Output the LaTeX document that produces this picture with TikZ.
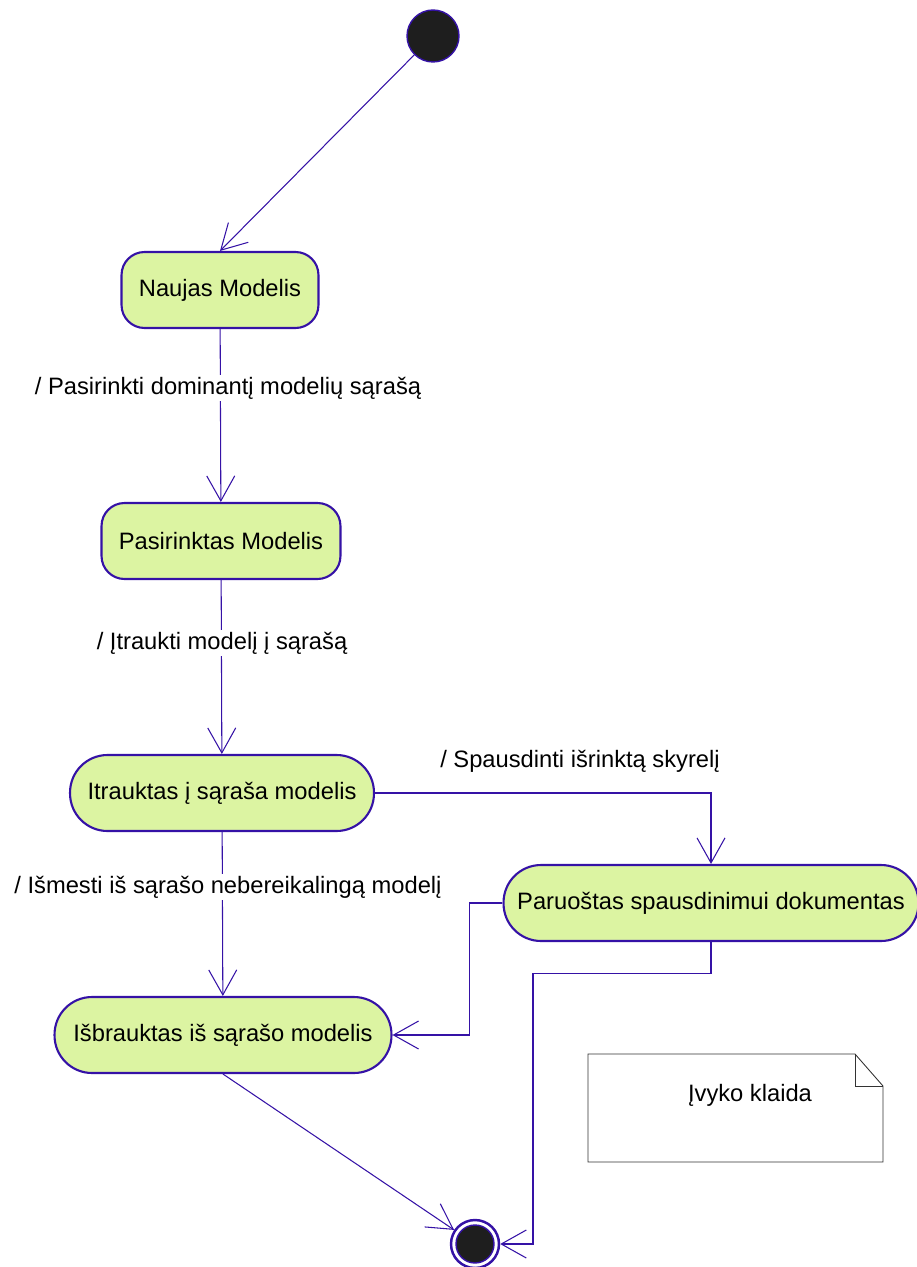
\documentclass[tikz,border=0pt]{standalone}
\usepackage{fontspec}
\setmainfont{Liberation Sans}
\usepackage{tikz}
\definecolor{umlBlue}{HTML}{3512A6}
\definecolor{umlGreen}{HTML}{DCF4A2}
\definecolor{umlBlack}{HTML}{1E1E1E}
\usetikzlibrary{arrows.meta}
\usetikzlibrary{positioning}

\begin{document}
\begin{tikzpicture}[x=0.02cm, y=-0.02cm,
  every node/.style={font=\fontsize{13.5}{16}\selectfont},
  state/.style={draw=umlBlue, line width=1.2pt, fill=umlGreen, minimum height=1.52cm, rounded corners=0.46cm, inner sep=0pt},
  stadium/.style={state, rounded corners=0.75cm},
  trans/.style={draw=umlBlue, line width=0.6pt, -{Straight Barb[length=0.5cm, width=0.56cm]}},
  guard/.style={fill=white, inner sep=1pt},
  noteline/.style={draw=black!80, line width=0.5pt}]
  \useasboundingbox (0,0) rectangle (916,1267);

  \node[circle, draw=umlBlue, line width=0.8pt, fill=umlBlack, minimum size=1.04cm, inner sep=0pt] (start) at (433,36) {};

  \node[state, minimum width=3.94cm] (naujas) at (220,290) {Naujas Modelis};
  \node[state, minimum width=4.78cm] (pasirinktas) at (221,541) {Pasirinktas Modelis};
  \node[stadium, minimum width=6.08cm] (itrauktas) at (222,793) {Itrauktas į sąraša modelis};
  \node[stadium, minimum width=6.74cm] (isbrauktas) at (223,1035) {Išbrauktas iš sąrašo modelis};
  \node[stadium, minimum width=8.3cm] (paruostas) at (711,903) {Paruoštas spausdinimui dokumentas};

  \node[circle, draw=umlBlue, line width=1.4pt, fill=white, minimum size=0.96cm, inner sep=0pt] (end) at (475,1244) {};
  \node[circle, draw=umlBlue, line width=0.8pt, fill=umlBlack, minimum size=0.76cm, inner sep=0pt] (endDot) at (end) {};

  \draw[trans] (start) -- (naujas.north);
  \draw[trans] (naujas) -- (pasirinktas);
  \draw[trans] (pasirinktas) -- (itrauktas);
  \draw[trans] (itrauktas) -- (isbrauktas);
  \draw[trans] (itrauktas.east) -| (paruostas.north);
  \draw[trans] (paruostas.west) -- ++(-33,0) |- (isbrauktas.east);
  \draw[trans] (paruostas.south) -- ++(0,31) -- ++(-178,0) |- (end.east);
  \draw[trans] (isbrauktas.south) -- (end);

  % transition labels
  \node[guard] (lblPasirinkti) at (228,388) {/ Pasirinkti dominantį modelių sąrašą};
  \node[guard] (lblItraukti) at (222,643) {/ Įtraukti modelį į sąrašą};
  \node[guard] (lblIsmesti) at (228,887) {/ Išmesti iš sąrašo nebereikalingą modelį};
  \node (lblSpausdinti) at (580,761) {/ Spausdinti išrinktą skyrelį};

  % note
  \draw[noteline] (588,1054) -- (855,1054) -- (883,1086) -- (883,1162) -- (588,1162) -- cycle;
  \draw[noteline] (855,1054) -- (855,1086) -- (883,1086);
  \node (klaida) at (750,1095) {Įvyko klaida};
\end{tikzpicture}
\end{document}
